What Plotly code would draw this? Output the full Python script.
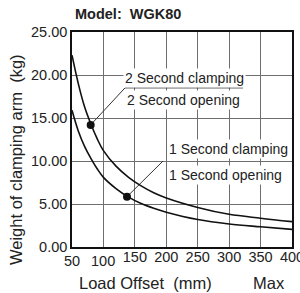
import plotly.graph_objects as go

# ---- data ----
load_offset = [50, 60, 70, 80, 90, 100, 120, 140, 160, 180, 200, 250, 300, 350, 400]
weight_2s = [22.3, 19.0, 16.3, 14.3, 12.6, 11.2, 9.4, 8.1, 7.1, 6.3, 5.7, 4.6, 3.8, 3.35, 2.95]
weight_1s = [15.9, 13.5, 11.7, 10.3, 9.1, 8.1, 6.8, 5.8, 5.05, 4.5, 4.05, 3.2, 2.68, 2.35, 2.05]

dot_2s = (79.7, 14.2)
dot_1s = (137.5, 5.85)
leader_2s_x = [79.7, 134.3, 322]
leader_2s_y = [14.2, 18.5, 18.5]
leader_1s_x = [137.5, 194.8]
leader_1s_y = [5.85, 10.0]

x_ticks = [50, 100, 150, 200, 250, 300, 350, 400]
y_ticks = [0, 5, 10, 15, 20, 25]
y_ticklabels = ["0.00", "5.00", "10.00", "15.00", "20.00", "25.00"]

title_text = "Model:  WGK80"
x_title = "Load Offset  (mm)"
y_title = "Weight of clamping arm  (kg)"
max_text = "Max"
labels_2s = ["2 Second clamping", "2 Second opening"]
labels_1s = ["1 Second clamping", "1 Second opening"]

FONT = "Liberation Sans, Arial, sans-serif"
GRID = "#6e6e6e"
TXT = "#222"

fig = go.Figure()

# leader lines
fig.add_trace(go.Scatter(x=leader_2s_x, y=leader_2s_y, mode="lines",
                         line=dict(color="#333", width=1), hoverinfo="skip"))
fig.add_trace(go.Scatter(x=leader_1s_x, y=leader_1s_y, mode="lines",
                         line=dict(color="#333", width=1), hoverinfo="skip"))

# curves
fig.add_trace(go.Scatter(x=load_offset, y=weight_2s, mode="lines", line_shape="spline",
                         line=dict(color="#111", width=1.6)))
fig.add_trace(go.Scatter(x=load_offset, y=weight_1s, mode="lines", line_shape="spline",
                         line=dict(color="#111", width=1.6)))
# dots
fig.add_trace(go.Scatter(x=[dot_2s[0], dot_1s[0]], y=[dot_2s[1], dot_1s[1]], mode="markers",
                         marker=dict(color="#111", size=8)))

annotations = []
# series labels (white background hides grid)
lab_pos = [
    (labels_2s[0], 131.1, 19.6),
    (labels_2s[1], 134.3, 17.15),
    (labels_1s[0], 201, 11.4),
    (labels_1s[1], 201, 8.37),
]
for txt, lx, ly in lab_pos:
    annotations.append(dict(x=lx, y=ly, xref="x", yref="y", text=txt, showarrow=False,
                            xanchor="left", yanchor="middle", bgcolor="white", borderpad=1,
                            font=dict(family=FONT, size=14, color=TXT)))

# x tick labels for 50 and 100 sit a little lower
for v in x_ticks[:2]:
    annotations.append(dict(x=v, y=-14 / 215, xref="x", yref="paper", text=str(v), showarrow=False,
                            xanchor="center", yanchor="middle",
                            font=dict(family=FONT, size=14.5, color=TXT)))

annotations += [
    dict(x=0.005, y=1.084, xref="paper", yref="paper", text="<b>" + title_text + "</b>",
         showarrow=False, xanchor="left", yanchor="middle",
         font=dict(family=FONT, size=14.5, color=TXT)),
    dict(x=(145.5 - 72) / 220, y=(247 - 283) / 215, xref="paper", yref="paper", text=x_title,
         showarrow=False, xanchor="center", yanchor="middle",
         font=dict(family=FONT, size=16.5, color=TXT)),
    dict(x=(268.5 - 72) / 220, y=(247 - 283) / 215, xref="paper", yref="paper", text=max_text,
         showarrow=False, xanchor="center", yanchor="middle",
         font=dict(family=FONT, size=16.5, color=TXT)),
    dict(x=(16 - 72) / 220, y=(247 - 160) / 215, xref="paper", yref="paper", text=y_title,
         showarrow=False, xanchor="center", yanchor="middle", textangle=-90,
         font=dict(family=FONT, size=16.5, color=TXT)),
]

fig.update_layout(
    width=300, height=293,
    margin=dict(l=72, r=8, t=32, b=46, autoexpand=False),
    paper_bgcolor="white", plot_bgcolor="white",
    showlegend=False,
    annotations=annotations,
    font=dict(family=FONT, size=14.5, color=TXT),
)
fig.update_xaxes(range=[50, 400], tickvals=x_ticks,
                 ticktext=["", ""] + [str(v) for v in x_ticks[2:]],
                 showgrid=True, gridcolor=GRID, gridwidth=1.4,
                 showline=True, linecolor="#111", linewidth=1.6, mirror=True,
                 ticks="", zeroline=False, automargin=False, ticklabelstandoff=-4,
                 ticklabeloverflow="allow",
                 tickfont=dict(family=FONT, size=14.5, color=TXT))
fig.update_yaxes(range=[0, 25], tickvals=y_ticks, ticktext=y_ticklabels,
                 showgrid=True, gridcolor=GRID, gridwidth=1.4,
                 showline=True, linecolor="#111", linewidth=1.6, mirror=True,
                 ticks="", zeroline=False, automargin=False, ticklabelstandoff=0,
                 tickfont=dict(family=FONT, size=14.5, color=TXT))

fig.write_html("out.html", config={"displayModeBar": False},
               post_script="document.body.style.margin='0';document.body.style.overflow='hidden';")
